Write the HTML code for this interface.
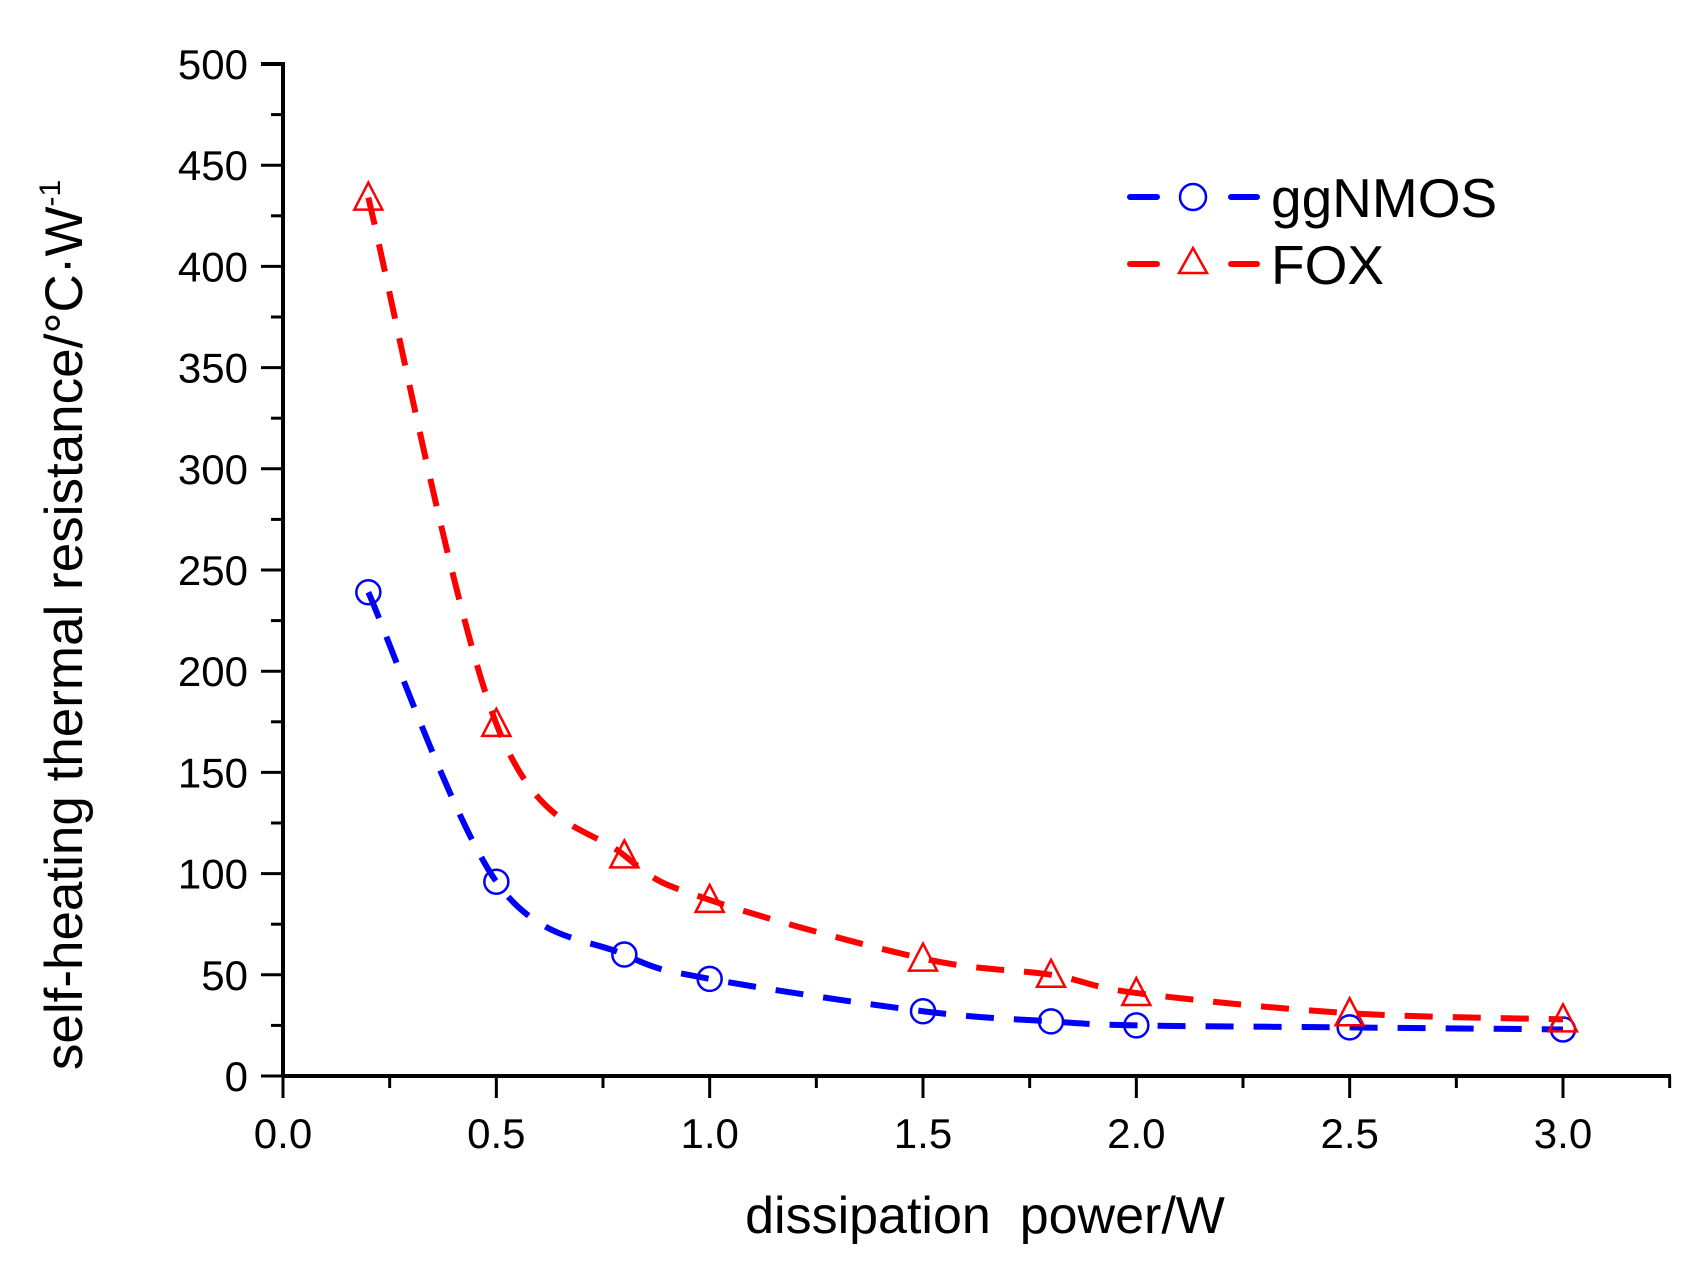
<!DOCTYPE html>
<html><head><meta charset="utf-8"><style>
html,body{margin:0;padding:0;background:#fff}
svg text{font-family:"Liberation Sans",Arial,sans-serif}
</style></head><body>
<svg id="chart" width="1691" height="1266" viewBox="0 0 1691 1266" xmlns="http://www.w3.org/2000/svg">
<g id="axes"></g><g id="series"></g>
<g>
 <line x1="1130" y1="197" x2="1257" y2="197" stroke="#0000ff" stroke-width="6" stroke-dasharray="27,74" stroke-linecap="round"/>
 <circle cx="1193" cy="197" r="13" fill="none" stroke="#0000ff" stroke-width="2.5"/>
 <text x="1271" y="217" font-size="55">ggNMOS</text>
 <line x1="1130" y1="264" x2="1257" y2="264" stroke="#ff0000" stroke-width="6" stroke-dasharray="27,74" stroke-linecap="round"/>
 <polygon points="1193,248 1207,273 1179,273" fill="none" stroke="#ff0000" stroke-width="2.5"/>
 <text x="1271" y="284" font-size="55">FOX</text>
</g>
<text x="985" y="1233" font-size="52" text-anchor="middle" xml:space="preserve">dissipation  power/W</text>
<text transform="translate(82,625) rotate(-90)" font-size="53" text-anchor="middle">self-heating thermal resistance/°C·W<tspan dy="-22" font-size="30">-1</tspan></text>
</svg>
<script>
const xs = [0.2,0.5,0.8,1.0,1.5,1.8,2.0,2.5,3.0];
const ggnmos = [239,96,60,48,32,27,25,24,23];
const fox = [434,174,109,87,58,50,41,31,28];
const xTicks = ["0.0","0.5","1.0","1.5","2.0","2.5","3.0"];
const yTicks = ["0","50","100","150","200","250","300","350","400","450","500"];
const NS="http://www.w3.org/2000/svg";
const X0=283,X1=1563,Y0=1076,Y1=64;
function sx(v){return X0+(v/3)*(X1-X0);}
function sy(v){return Y0-(v/500)*(Y0-Y1);}
function mk(t,a,p){const e=document.createElementNS(NS,t);for(const k in a)e.setAttribute(k,a[k]);p.appendChild(e);return e;}
const ax=document.getElementById('axes');
let l=mk('line',{x1:X0,y1:Y0,x2:1671,y2:Y0,stroke:'#000','stroke-width':4},ax);


l=mk('line',{x1:X0,y1:Y0,x2:X0,y2:Y1-2,stroke:'#000','stroke-width':4},ax);


mk('line',{x1:X0-22,y1:Y1,x2:X0,y2:Y1,stroke:'#000','stroke-width':4},ax);
for(let i=0;i<=13;i++){const v=i*0.25,x=sx(v),maj=i%2==0;
 const t=mk('line',{x1:x,y1:Y0,x2:x,y2:Y0+(maj?22:12),stroke:'#000','stroke-width':3},ax);
 
 }
xTicks.forEach(s=>{const t=mk('text',{x:sx(parseFloat(s)),y:1148,'font-size':42,'text-anchor':'middle'},ax);t.textContent=s;
 
 });
for(let i=0;i<=20;i++){const y=sy(i*25),maj=i%2==0;
 const t=mk('line',{x1:X0-(maj?22:12),y1:y,x2:X0,y2:y,stroke:'#000','stroke-width':3},ax);
 
 }
yTicks.forEach(s=>{const t=mk('text',{x:248,y:sy(parseFloat(s))+15,'font-size':42,'text-anchor':'end'},ax);t.textContent=s;
 
 });
function curve(vals){const p=xs.map((x,i)=>[sx(x),sy(vals[i])]);let d='M'+p[0];
 for(let i=0;i<p.length-1;i++){const a=p[Math.max(0,i-1)],b=p[i],c=p[i+1],e=p[Math.min(p.length-1,i+2)];
  d+=` C${b[0]+(c[0]-a[0])/6},${b[1]+(c[1]-a[1])/6} ${c[0]-(e[0]-b[0])/6},${c[1]-(e[1]-b[1])/6} ${c[0]},${c[1]}`;}
 return d;}
const sg=document.getElementById('series');
[[ggnmos,'#0000ff','ggnmos'],[fox,'#ff0000','fox']].forEach(([vals,col,nm])=>{
 const p=mk('path',{d:curve(vals),fill:'none',stroke:col,'stroke-width':6,'stroke-dasharray':'28,20'},sg);
 
 
 xs.forEach((x,i)=>{const cx=sx(x),cy=sy(vals[i]);let m;
  if(nm=='ggnmos')m=mk('circle',{cx:cx,cy:cy,r:12,fill:'none',stroke:col,'stroke-width':2.5},sg);
  else m=mk('polygon',{points:`${cx},${cy-15} ${cx+14},${cy+12} ${cx-14},${cy+12}`,fill:'none',stroke:col,'stroke-width':2.5},sg);
  
  });
});
</script>
</body></html>
